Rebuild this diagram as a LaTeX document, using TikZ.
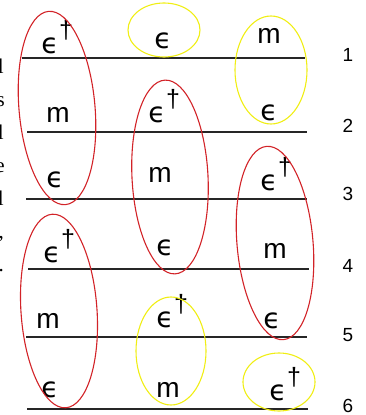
\documentclass[tikz,border=0pt]{standalone}
\usepackage{fontspec}
\setmainfont{Liberation Sans}
\newfontfamily\fragfont{Liberation Serif}
\newfontfamily\epsfont{DejaVu Sans}
\definecolor{ellred}{RGB}{210,35,40}
\definecolor{ellyel}{RGB}{240,238,20}
\tikzset{
  rule/.style={line width=1.1pt, black!85},
  redell/.style={draw=ellred, line width=1.1pt},
  yelell/.style={draw=ellyel, line width=1.1pt},
  eps/.style={inner sep=0pt, anchor=base, font=\epsfont\fontsize{28}{28}\selectfont},
  mlab/.style={inner sep=0pt, anchor=base, font=\fontsize{28}{28}\selectfont},
  numlab/.style={inner sep=0pt, anchor=base, font=\fontsize{19}{19}\selectfont},
  frag/.style={inner sep=0pt, anchor=base east, font=\fragfont\fontsize{21}{21}\selectfont}
}
\newcommand{\epsl}{ϵ}
\newcommand{\epsd}{ϵ\rlap{\kern0.5pt\raisebox{15pt}{\fontspec{Liberation Sans}\fontsize{25}{25}\selectfont †}}}
\begin{document}
\begin{tikzpicture}[x=1pt,y=-1pt]
\useasboundingbox (0,0) rectangle (365,415);
% cropped text fragments at the left edge
\node[frag] (f1) at (4,73) {l};
\node[frag] (f2) at (5,106) {s};
\node[frag] (f3) at (4,139) {l};
\node[frag] (f4) at (5,172) {e};
\node[frag] (f5) at (4,205) {l};
\node[frag] (f6) at (4,238) {,};
\node[frag] (f7) at (4,271) {.};
% horizontal rules
\coordinate (a1) at (22,58);  \coordinate (b1) at (305,58);
\coordinate (a2) at (27,132); \coordinate (b2) at (307,132);
\coordinate (a3) at (26,199); \coordinate (b3) at (307,199);
\coordinate (a4) at (28,269); \coordinate (b4) at (309,269);
\coordinate (a5) at (26,337); \coordinate (b5) at (307,337);
\coordinate (a6) at (27,409); \coordinate (b6) at (308,409);
\foreach \i in {1,...,6} { \draw[rule] (a\i) -- (b\i); }
% row numbers
\node[numlab] (n1) at (348,61) {1};
\node[numlab] (n2) at (348,132) {2};
\node[numlab] (n3) at (348,200) {3};
\node[numlab] (n4) at (348,272) {4};
\node[numlab] (n5) at (348,341) {5};
\node[numlab] (n6) at (348,412) {6};
% column 1
\node[eps]  (c11) at (50,53)  {\epsd};
\node[mlab] (c12) at (58,122) {m};
\node[eps]  (c13) at (55,187) {\epsl};
\node[eps]  (c14) at (52,262) {\epsd};
\node[mlab] (c15) at (48,328) {m};
\node[eps]  (c16) at (50,397) {\epsl};
% column 2
\node[eps]  (c21) at (163,48)  {\epsl};
\node[eps]  (c22) at (157,122) {\epsd};
\node[mlab] (c23) at (160,182) {m};
\node[eps]  (c24) at (165,255) {\epsl};
\node[eps]  (c25) at (165,327) {\epsd};
\node[mlab] (c26) at (168,397) {m};
% column 3
\node[mlab] (c31) at (269,43)  {m};
\node[eps]  (c32) at (269,120) {\epsl};
\node[eps]  (c33) at (269,190) {\epsd};
\node[mlab] (c34) at (275,258) {m};
\node[eps]  (c35) at (272,328) {\epsl};
\node[eps]  (c36) at (278,400) {\epsd};
% red ellipses
\draw[redell, rotate around={5:(57,108)}]  (57,108)  ellipse [x radius=38, y radius=97];
\draw[redell, rotate around={4:(59,311)}]  (59,311)  ellipse [x radius=38, y radius=97];
\draw[redell, rotate around={3:(170,177)}] (170,177) ellipse [x radius=38, y radius=97];
\draw[redell, rotate around={5:(275,243)}] (275,243) ellipse [x radius=38, y radius=97];
% yellow ellipses
\draw[yelell] (164,30)  ellipse [x radius=36, y radius=27];
\draw[yelell] (271,70)  ellipse [x radius=36, y radius=54];
\draw[yelell] (171,351) ellipse [x radius=35, y radius=54];
\draw[yelell] (279,382) ellipse [x radius=36, y radius=29];
\end{tikzpicture}
\end{document}
